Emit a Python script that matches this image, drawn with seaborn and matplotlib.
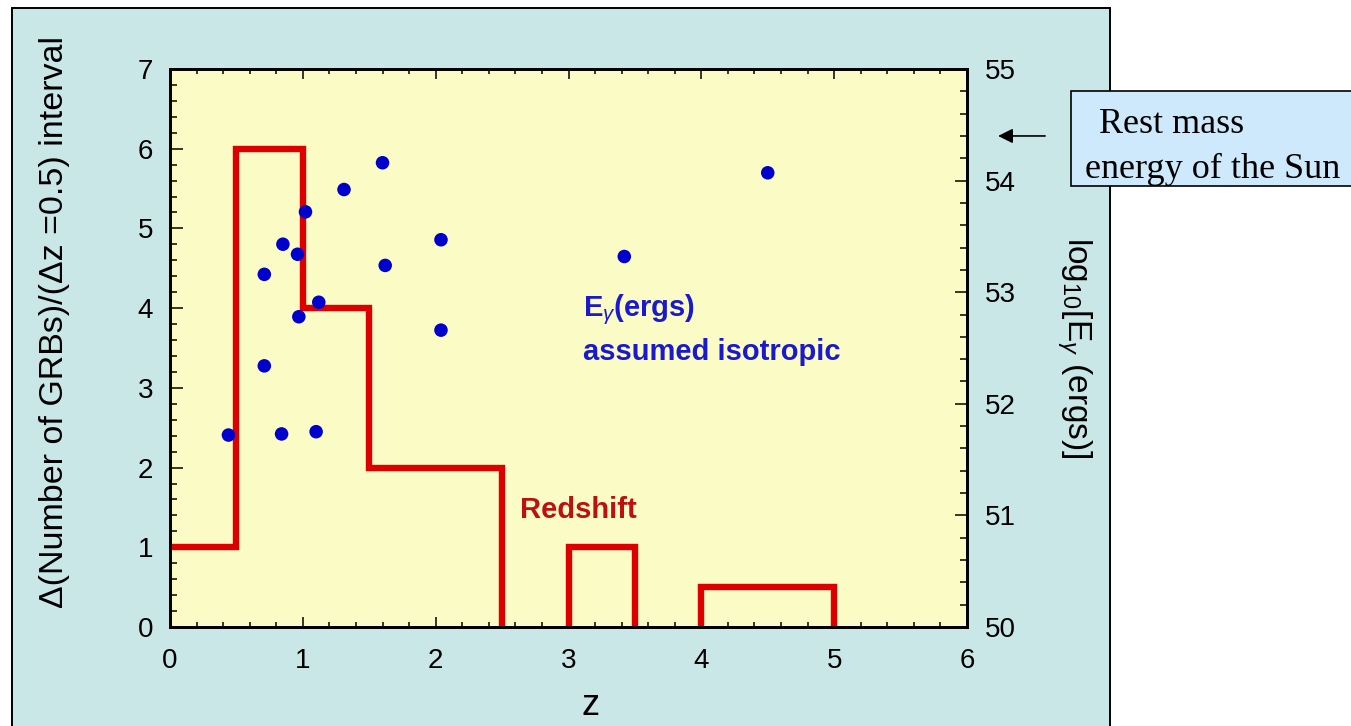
import numpy as np
import matplotlib
matplotlib.use("Agg")
import matplotlib.pyplot as plt
from matplotlib import patches
from matplotlib.ticker import MultipleLocator
import seaborn as sns

# Redshift histogram (GRBs per dz = 0.5 interval)
bin_edges = [0.0, 0.5, 1.0, 1.5, 2.5, 3.0, 3.5, 4.0, 5.0]
bin_counts = [1, 6, 4, 2, 0, 1, 0, 0.5]

# Isotropic-equivalent gamma-ray energies, log10(E / erg)
grb_z = [0.44, 0.71, 0.71, 0.85, 0.84, 0.96, 0.97, 1.02, 1.10, 1.12,
         1.31, 1.60, 1.62, 2.04, 2.04, 3.42, 4.50]
grb_log_e = [51.72, 53.16, 52.34, 53.43, 51.73, 53.34, 52.78, 53.72, 51.75, 52.91,
             53.92, 54.16, 53.24, 53.47, 52.66, 53.32, 54.07]

sun_rest_mass_log_e = 54.4

x_ticks = [0, 1, 2, 3, 4, 5, 6]
left_ticks = [0, 1, 2, 3, 4, 5, 6, 7]
right_ticks = [50, 51, 52, 53, 54, 55]

sns.set_theme(style="ticks")
plt.rcParams["font.family"] = ["Liberation Sans", "DejaVu Sans"]
plt.rcParams["mathtext.fontset"] = "custom"
plt.rcParams["mathtext.rm"] = "Liberation Sans"
plt.rcParams["mathtext.it"] = "Liberation Sans:italic"
plt.rcParams["mathtext.bf"] = "Liberation Sans:bold"
for key in ("text.color", "axes.labelcolor", "xtick.color", "ytick.color",
            "xtick.labelcolor", "ytick.labelcolor"):
    plt.rcParams[key] = "black"

W, H = 1351, 726
fig = plt.figure(figsize=(W / 100, H / 100), dpi=100, facecolor="white")

# light teal panel behind the chart
fig.patches.append(patches.Rectangle(
    (12 / W, -0.05), (1110 - 12) / W, 1.05 - 8 / H,
    transform=fig.transFigure, facecolor="#c9e7e6", edgecolor="black",
    linewidth=1.4, zorder=-1))

ax = fig.add_axes([170 / W, 1 - 627 / H, (967 - 170) / W, (627 - 69) / H])
ax.set_facecolor("#fbfbc6")
ax2 = ax.twinx()

# histogram outline, broken wherever a bin is empty
xs, ys = [], []
prev = None
for lo, hi, c in zip(bin_edges[:-1], bin_edges[1:], bin_counts):
    if c == 0:
        if prev not in (None, 0):
            xs += [lo]; ys += [0]
        xs.append(np.nan); ys.append(np.nan)
    else:
        if prev is None:
            pass
        elif prev == 0:
            xs.append(lo); ys.append(0)
        else:
            xs.append(lo); ys.append(prev)
        xs += [lo, hi]; ys += [c, c]
    prev = c
if prev not in (None, 0):
    xs.append(bin_edges[-1]); ys.append(0)
ax.plot(xs, ys, color="#dd0000", linewidth=4.6, solid_joinstyle="miter",
        solid_capstyle="projecting", zorder=2)

sns.scatterplot(x=grb_z, y=grb_log_e, ax=ax2, color="#0000cc", s=95,
                edgecolor="none", zorder=3)

ax.set_xlim(0, 6)
ax.set_ylim(0, 7)
ax2.set_ylim(50, 55)
ax.set_xticks(x_ticks)
ax.set_yticks(left_ticks)
ax2.set_yticks(right_ticks)
ax.xaxis.set_minor_locator(MultipleLocator(0.2))
ax.yaxis.set_minor_locator(MultipleLocator(0.2))
ax2.yaxis.set_minor_locator(MultipleLocator(0.2))

for a in (ax, ax2):
    for s in a.spines.values():
        s.set_linewidth(2.0)
        s.set_color("black")
        s.set_visible(True)

ax.tick_params(axis="x", which="both", direction="in", top=True, bottom=True,
               width=1.1, color="black", labelcolor="black", labelsize=20, pad=15)
ax.tick_params(axis="x", which="major", length=7)
ax.tick_params(axis="x", which="minor", length=3.6)
ax.tick_params(axis="y", which="both", direction="in", left=True, right=False,
               width=1.1, color="black", labelcolor="black", labelsize=20, pad=12)
ax.tick_params(axis="y", which="major", length=9.5)
ax.tick_params(axis="y", which="minor", length=4.8)
ax2.tick_params(axis="y", which="both", direction="in", right=True, left=False,
                width=1.1, color="black", labelcolor="black", labelsize=20, pad=13)
ax2.tick_params(axis="y", which="major", length=9)
ax2.tick_params(axis="y", which="minor", length=4.8)

ax.set_xlabel("z", fontsize=26, color="black")
ax.xaxis.set_label_coords(0.528, -0.11)
ax.set_ylabel("\u0394(Number of GRBs)/(\u0394z =0.5) interval", fontsize=24.5,
              color="black")
ax.yaxis.set_label_coords(-0.125, 0.547)
ax2.set_ylabel(r"log$_{\mathrm{10}}$[E$_{\gamma}$ (ergs)]", fontsize=24,
               rotation=270, va="bottom", color="black")
ax2.yaxis.set_label_coords(1.11, 0.5)

ax.text(3.11, 3.90, r"E$_{\gamma}$(ergs)", color="#1a1acc", fontsize=21,
        fontweight="bold", va="baseline")
ax.text(3.11, 3.35, "assumed isotropic", color="#1a1acc", fontsize=21,
        fontweight="bold", va="baseline")
ax.text(2.635, 1.37, "Redshift", color="#bb1111", fontsize=21,
        fontweight="bold", va="baseline")

# callout for the solar rest-mass energy
ax2.annotate("", xy=(1.039, sun_rest_mass_log_e), xytext=(1.098, sun_rest_mass_log_e),
             xycoords=("axes fraction", "data"), annotation_clip=False,
             arrowprops=dict(arrowstyle="-|>", color="black", lw=1.2,
                             mutation_scale=22, shrinkA=0, shrinkB=0))
fig.patches.append(patches.Rectangle(
    (1071 / W, 1 - 186 / H), 0.3, (186 - 91) / H, transform=fig.transFigure,
    facecolor="#cde9fb", edgecolor="black", linewidth=1.2, zorder=1))
fig.text(1099 / W, 1 - 133 / H, "Rest mass", fontsize=26, va="baseline",
         family=["Liberation Serif", "DejaVu Serif"], zorder=2)
fig.text(1085 / W, 1 - 178 / H, "energy of the Sun", fontsize=26, va="baseline",
         family=["Liberation Serif", "DejaVu Serif"], zorder=2)

fig.savefig("out.png", dpi=100, facecolor="white")
